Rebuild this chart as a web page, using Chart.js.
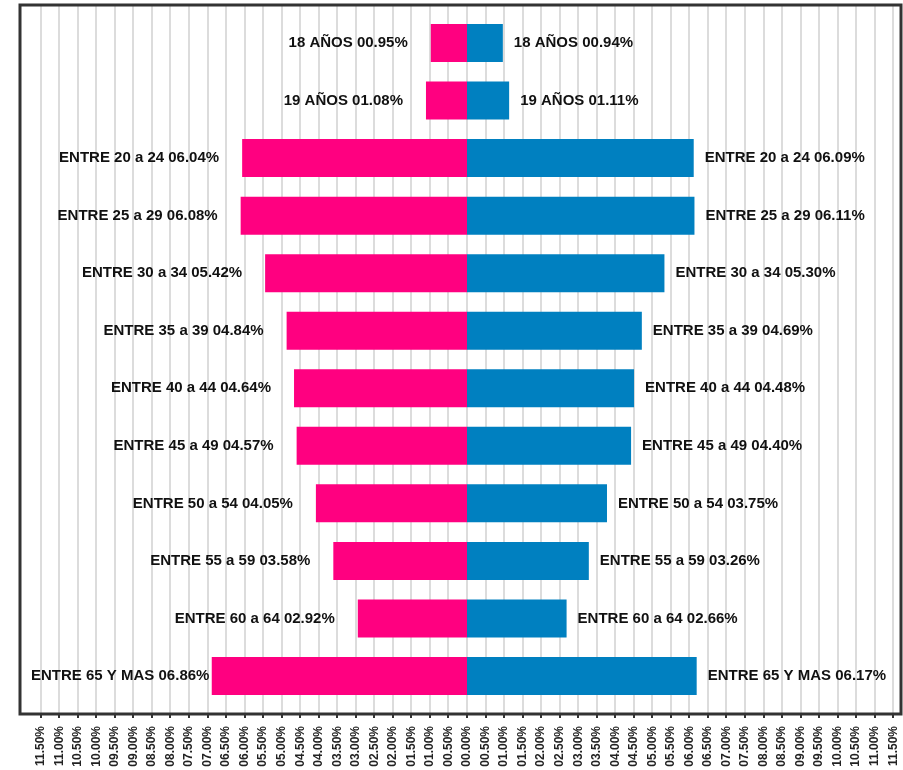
<!DOCTYPE html>
<html>
<head>
<meta charset="utf-8">
<script src="https://cdn.jsdelivr.net/npm/chart.js@4.4.1/dist/chart.umd.min.js"></script>
<style>
  html, body { margin: 0; padding: 0; background: #fff; }
  #wrap { width: 903px; height: 770px; }
</style>
</head>
<body>
<div id="wrap"><canvas id="chart" width="903" height="770"></canvas></div>
<script>
const ageGroups = [
  "18 AÑOS", "19 AÑOS", "ENTRE 20 a 24", "ENTRE 25 a 29", "ENTRE 30 a 34",
  "ENTRE 35 a 39", "ENTRE 40 a 44", "ENTRE 45 a 49", "ENTRE 50 a 54",
  "ENTRE 55 a 59", "ENTRE 60 a 64", "ENTRE 65 Y MAS"
];
const women = [0.95, 1.08, 6.04, 6.08, 5.42, 4.84, 4.64, 4.57, 4.05, 3.58, 2.92, 6.86];
const men   = [0.94, 1.11, 6.09, 6.11, 5.30, 4.69, 4.48, 4.40, 3.75, 3.26, 2.66, 6.17];
const tickValues = [];
for (let t = -11.5; t <= 11.5001; t += 0.5) tickValues.push(Math.round(t * 100) / 100);

const pct = (v) => Math.abs(v).toFixed(2).padStart(5, "0") + "%";
const labelFont = "bold 15px 'Liberation Sans', Arial, sans-serif";

// frame around the plot area
const framePlugin = {
  id: "frame",
  afterDraw(chart) {
    const { ctx, chartArea: a } = chart;
    ctx.save();
    ctx.strokeStyle = "#333";
    ctx.lineWidth = 3;
    ctx.strokeRect(a.left, a.top, a.right - a.left, a.bottom - a.top);
    ctx.restore();
  }
};

// "NAME value%" labels next to each bar end
const barLabels = {
  id: "barLabels",
  afterDatasetsDraw(chart) {
    const { ctx, chartArea: a, scales: { x, y } } = chart;
    ctx.save();
    ctx.font = labelFont;
    ctx.fillStyle = "#111";
    ctx.textBaseline = "middle";
    ageGroups.forEach((name, i) => {
      const py = y.getPixelForValue(i);
      // left side (women)
      let txt = name + " " + pct(women[i]);
      let w = ctx.measureText(txt).width;
      let end = x.getPixelForValue(-women[i]) - 24;
      if (end - w < a.left + 11) end = a.left + 11 + w;
      ctx.textAlign = "right";
      ctx.fillText(txt, end, py);
      // right side (men)
      txt = name + " " + pct(men[i]);
      w = ctx.measureText(txt).width;
      let start = x.getPixelForValue(men[i]) + 12;
      if (start + w > a.right - 13) start = a.right - 13 - w;
      ctx.textAlign = "left";
      ctx.fillText(txt, start, py);
    });
    ctx.restore();
  }
};

new Chart(document.getElementById("chart"), {
  type: "bar",
  data: {
    datasets: [
      {
        label: "Mujeres",
        data: women.map((v, i) => ({ x: -v, y: i })),
        backgroundColor: "#FF0080",
        grouped: false,
        inflateAmount: 1,
        barThickness: 36
      },
      {
        label: "Hombres",
        data: men.map((v, i) => ({ x: v, y: i })),
        backgroundColor: "#0080C0",
        grouped: false,
        inflateAmount: 1,
        barThickness: 36
      }
    ]
  },
  options: {
    indexAxis: "y",
    responsive: false,
    animation: false,
    layout: { padding: { left: 20, right: 2, top: 5, bottom: 0 } },
    plugins: { legend: { display: false }, tooltip: { enabled: false } },
    scales: {
      x: {
        type: "linear",
        min: -12.0605,
        max: 11.7095,
        afterBuildTicks: (scale) => { scale.ticks = tickValues.map(v => ({ value: v })); },
        afterFit: (scale) => { scale.paddingLeft = 0; scale.paddingRight = 0; scale.height = 56; },
        grid: {
          color: "#dcdcdc",
          lineWidth: 2,
          tickLength: 4,
          tickColor: "#333",
          drawOnChartArea: true,
          z: -1
        },
        border: { display: false },
        ticks: {
          autoSkip: false,
          minRotation: 90,
          maxRotation: 90,
          padding: 8,
          color: "#222",
          font: { family: "'Liberation Sans', Arial, sans-serif", size: 12, weight: "bold" },
          callback: (v) => pct(v)
        }
      },
      y: {
        type: "linear",
        reverse: true,
        offset: false,
        grid: { offset: false },
        min: -0.66,
        max: 11.66,
        display: false
      }
    }
  },
  plugins: [framePlugin, barLabels]
});
</script>
</body>
</html>
